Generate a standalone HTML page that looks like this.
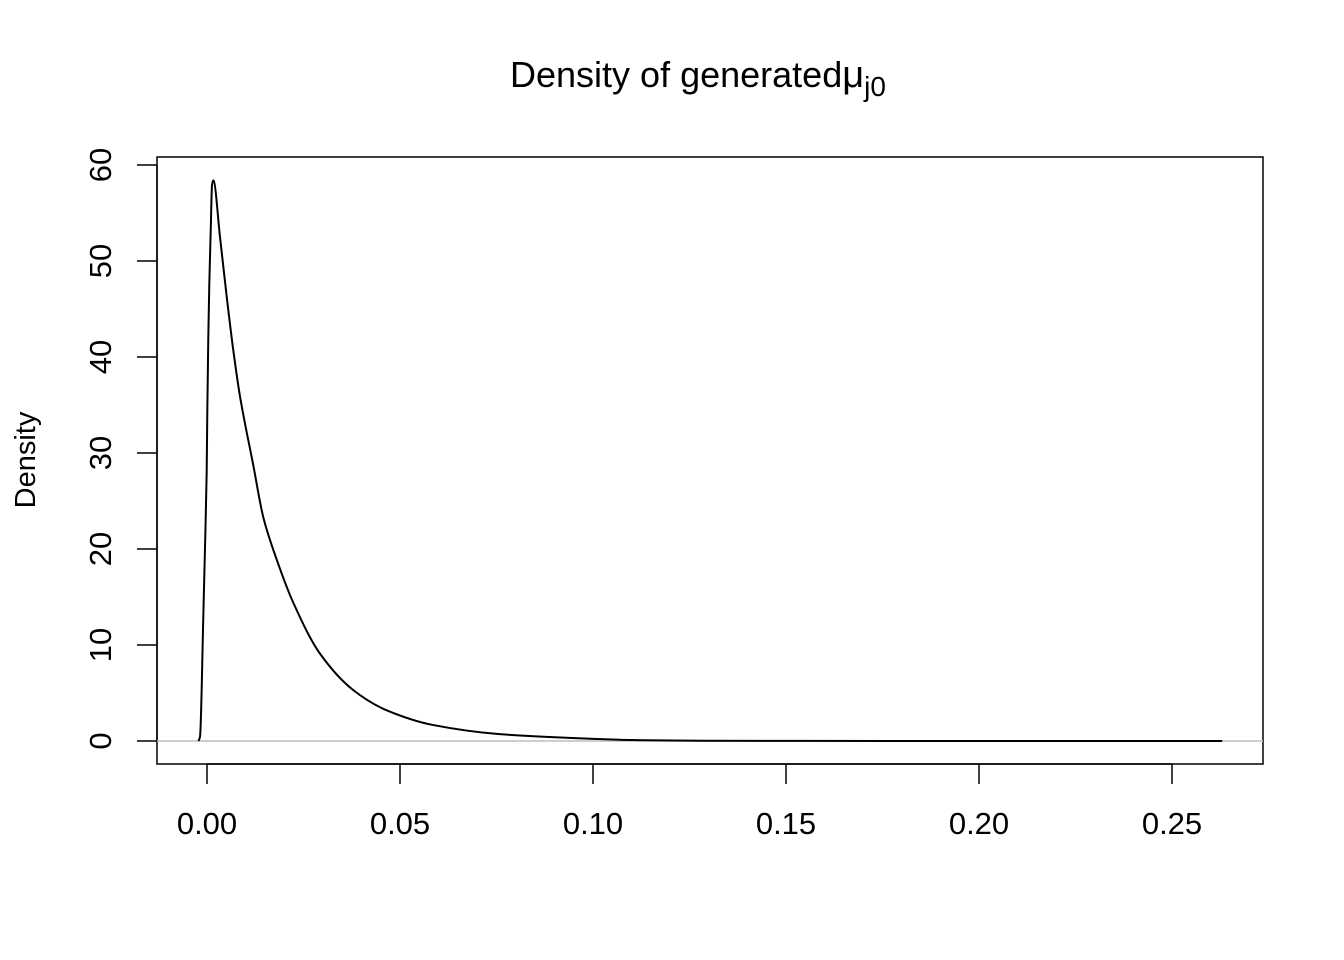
<!DOCTYPE html>
<html><head><meta charset="utf-8"><style>
body{margin:0;background:#fff;}
svg{display:block;font-family:"Liberation Sans",Arial,sans-serif;}
</style></head><body>
<svg id="chart" width="1344" height="960">
<text x="510" y="87" font-size="36">Density of generated<tspan font-size="38">μ</tspan><tspan font-size="28" dy="9">j0</tspan></text>
<text transform="translate(35,460) rotate(-90)" text-anchor="middle" font-size="29">Density</text>
<rect x="157" y="157" width="1106" height="607" fill="none" stroke="#000" stroke-width="1.5"/>
<g id="xaxis"></g>
<g id="yaxis"></g>
<line id="zero" stroke="#bebebe" stroke-width="1.5"/>
<path id="curve" fill="none" stroke="#000" stroke-width="2"/>
</svg>
<script>
const xTicks=[0,0.05,0.10,0.15,0.20,0.25];
const xTickLabels=["0.00","0.05","0.10","0.15","0.20","0.25"];
const yTicks=[0,10,20,30,40,50,60];
const yTickLabels=["0","10","20","30","40","50","60"];
const xVals=[-0.0022,-0.00181,-0.00096,-0.00052,-0.00008,0.00008,0.00034,0.0006,0.00096,0.0013,0.00163,0.00337,0.0051,0.00681,0.00855,0.012,0.01459,0.01806,0.02236,0.02927,0.0379,0.04655,0.05863,0.0754,0.0932,0.1104,0.128,0.18,0.263];
const yVals=[0,0.45,12.9,20.1,28.1,34.4,42.1,47.7,53.1,57.9,58.4,52.5,46.3,40.7,35.9,28.7,23.3,18.9,14.4,9.1,5.3,3.2,1.66,0.73,0.34,0.1,0.03,0,0];
const X=v=>207+v*3860, Y=v=>741-v*9.6;
const NS="http://www.w3.org/2000/svg";
const xa=document.getElementById('xaxis'), ya=document.getElementById('yaxis');
function mk(tag,attrs,parent){const e=document.createElementNS(NS,tag);for(const k in attrs)e.setAttribute(k,attrs[k]);parent.appendChild(e);return e;}
let l=mk('line',{x1:X(xTicks[0]),x2:X(xTicks[xTicks.length-1]),y1:764,y2:764,stroke:'#000','stroke-width':1.5},xa);


xTicks.forEach((t,i)=>{
 const tk=mk('line',{x1:X(t),x2:X(t),y1:764,y2:784,stroke:'#000','stroke-width':1.5},xa);
 
 
 const tx=mk('text',{x:X(t),y:834,'text-anchor':'middle','font-size':31},xa);
 tx.textContent=xTickLabels[i];
 
 
});
l=mk('line',{x1:157,x2:157,y1:Y(yTicks[0]),y2:Y(yTicks[yTicks.length-1]),stroke:'#000','stroke-width':1.5},ya);


yTicks.forEach((t,i)=>{
 const tk=mk('line',{x1:137,x2:157,y1:Y(t),y2:Y(t),stroke:'#000','stroke-width':1.5},ya);
 
 
 const tx=mk('text',{transform:`translate(111,${Y(t)}) rotate(-90)`,'text-anchor':'middle','font-size':31},ya);
 tx.textContent=yTickLabels[i];
 
 
});
const z=document.getElementById('zero');
z.setAttribute('x1',157);z.setAttribute('x2',1263);z.setAttribute('y1',Y(0));z.setAttribute('y2',Y(0));
const px=xVals.map(X), py=yVals.map(Y), n=px.length;
const d=[],m=[];
for(let i=0;i<n-1;i++)d.push((py[i+1]-py[i])/(px[i+1]-px[i]));
m[0]=d[0];m[n-1]=d[n-2];
for(let i=1;i<n-1;i++)m[i]=(d[i-1]*d[i]<=0)?0:2/(1/d[i-1]+1/d[i]);
let p='M'+px[0].toFixed(1)+','+py[0].toFixed(1);
for(let i=0;i<n-1;i++){const h=(px[i+1]-px[i])/3;
 p+=`C${(px[i]+h).toFixed(2)},${(py[i]+m[i]*h).toFixed(2)} ${(px[i+1]-h).toFixed(2)},${(py[i+1]-m[i+1]*h).toFixed(2)} ${px[i+1].toFixed(2)},${py[i+1].toFixed(2)}`;}
document.getElementById('curve').setAttribute('d',p);
</script>
</body></html>
